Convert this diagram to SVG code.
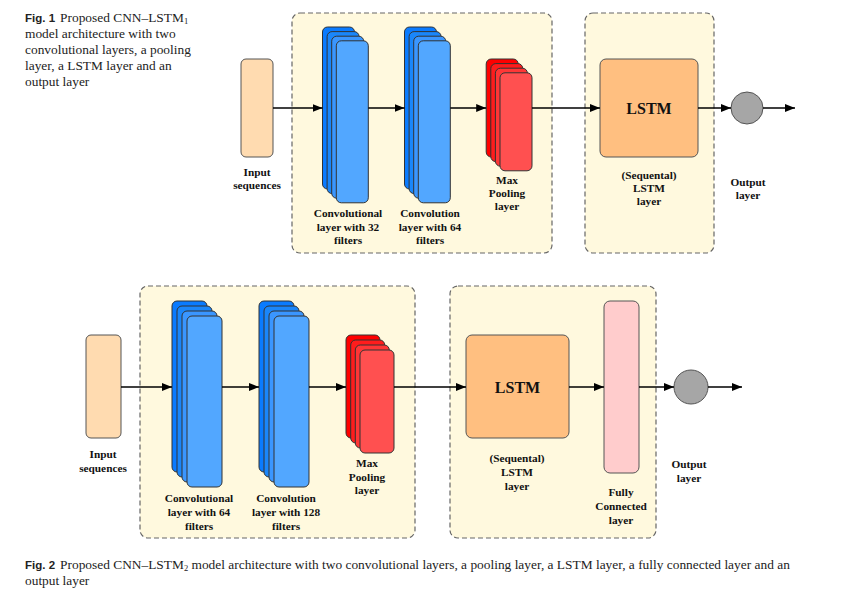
<svg xmlns="http://www.w3.org/2000/svg" width="865" height="602" viewBox="0 0 865 602">
<defs>
<marker id="ah" viewBox="0 0 10 8" refX="10" refY="4" markerWidth="10" markerHeight="8" markerUnits="userSpaceOnUse" orient="auto">
<path d="M0,0 L10,4 L0,8 Z" fill="#000"/>
</marker>
</defs>
<style>
.grp{fill:#FFF9DE;stroke:#666;stroke-width:1.2;stroke-dasharray:5,3}
.inp{fill:#FFDBB0;stroke:#555;stroke-width:1}
.b1{fill:#0A7BFF;stroke:#333;stroke-width:1}
.b2{fill:#1A86FA;stroke:#333;stroke-width:1}
.b3{fill:#3A96FF;stroke:#333;stroke-width:1}
.b4{fill:#52A7FF;stroke:#333;stroke-width:1}
.r1{fill:#FF0000;stroke:#333;stroke-width:1}
.r2{fill:#FF1C1C;stroke:#333;stroke-width:1}
.r3{fill:#FF3636;stroke:#333;stroke-width:1}
.r4{fill:#FF5050;stroke:#333;stroke-width:1}
.lstm{fill:#FFBF80;stroke:#555;stroke-width:1}
.fc{fill:#FFCCCC;stroke:#555;stroke-width:1}
.out{fill:#A6A6A6;stroke:#555;stroke-width:1}
.lbl{font-family:"Liberation Serif","Times New Roman",serif;font-weight:bold;font-size:11.3px;fill:#111;text-anchor:middle}
.big{font-family:"Liberation Serif","Times New Roman",serif;font-weight:bold;font-size:16px;fill:#111;text-anchor:middle}
.cap{font-family:"Liberation Serif","Times New Roman",serif;font-size:13.4px;fill:#222}
.capb{font-family:"Liberation Sans",Arial,sans-serif;font-weight:bold;font-size:11.5px}
.conn{stroke:#000;stroke-width:1.5;fill:none;marker-end:url(#ah)}
</style>

<!-- Figure 1 caption -->
<g id="caption1">
<text class="cap" x="25" y="22"><tspan class="capb">Fig. 1</tspan><tspan dx="5">Proposed CNN–LSTM</tspan><tspan font-size="8.5" dy="2">1</tspan></text>
<text class="cap" x="25" y="38">model architecture with two</text>
<text class="cap" x="25" y="54">convolutional layers, a pooling</text>
<text class="cap" x="25" y="70">layer, a LSTM layer and an</text>
<text class="cap" x="25" y="86">output layer</text>
</g>

<!-- Figure 1 groups -->
<g id="f1-group1"><rect class="grp" x="292" y="13" width="260" height="240" rx="8"/></g>
<g id="f1-group2"><rect class="grp" x="585" y="13" width="129" height="240" rx="8"/></g>

<g id="f1-input">
<rect class="inp" x="241" y="59" width="32" height="98" rx="5"/>
<text class="lbl" x="257" y="176">Input</text>
<text class="lbl" x="257" y="189">sequences</text>
</g>

<g id="f1-conv1">
<rect class="b1" x="322.5" y="27" width="32" height="162" rx="5"/>
<rect class="b2" x="327.1" y="31.6" width="32" height="162" rx="5"/>
<rect class="b3" x="331.7" y="36.2" width="32" height="162" rx="5"/>
<rect class="b4" x="336.3" y="40.8" width="32" height="162" rx="5"/>
<text class="lbl" x="348" y="217">Convolutional</text>
<text class="lbl" x="348" y="230.5">layer with 32</text>
<text class="lbl" x="348" y="244">filters</text>
</g>

<g id="f1-conv2">
<rect class="b1" x="404.5" y="27" width="32" height="162" rx="5"/>
<rect class="b2" x="409.1" y="31.6" width="32" height="162" rx="5"/>
<rect class="b3" x="413.7" y="36.2" width="32" height="162" rx="5"/>
<rect class="b4" x="418.3" y="40.8" width="32" height="162" rx="5"/>
<text class="lbl" x="430" y="217">Convolution</text>
<text class="lbl" x="430" y="230.5">layer with 64</text>
<text class="lbl" x="430" y="244">filters</text>
</g>

<g id="f1-pool">
<rect class="r1" x="486.2" y="59" width="32" height="98" rx="5"/>
<rect class="r2" x="490.8" y="63.6" width="32" height="98" rx="5"/>
<rect class="r3" x="495.4" y="68.2" width="32" height="98" rx="5"/>
<rect class="r4" x="500" y="72.8" width="32" height="98" rx="5"/>
<text class="lbl" x="507" y="184">Max</text>
<text class="lbl" x="507" y="197">Pooling</text>
<text class="lbl" x="507" y="210">layer</text>
</g>

<g id="f1-lstm">
<rect class="lstm" x="600" y="59" width="98" height="98" rx="6"/>
<text class="big" x="649" y="114">LSTM</text>
<text class="lbl" x="649" y="179">(Sequental)</text>
<text class="lbl" x="649" y="192">LSTM</text>
<text class="lbl" x="649" y="205">layer</text>
</g>

<g id="f1-output">
<circle class="out" cx="747" cy="108" r="16"/>
<text class="lbl" x="748" y="186">Output</text>
<text class="lbl" x="748" y="199">layer</text>
</g>

<!-- Figure 2 groups -->
<g id="f2-group1"><rect class="grp" x="140" y="286" width="275" height="252" rx="8"/></g>
<g id="f2-group2"><rect class="grp" x="450" y="286" width="206" height="252" rx="8"/></g>

<g id="f2-input">
<rect class="inp" x="86" y="335" width="35" height="103" rx="5"/>
<text class="lbl" x="103" y="458">Input</text>
<text class="lbl" x="103" y="472">sequences</text>
</g>

<g id="f2-conv1">
<rect class="b1" x="172" y="301" width="35" height="171" rx="5"/>
<rect class="b2" x="177" y="306" width="35" height="171" rx="5"/>
<rect class="b3" x="182" y="311" width="35" height="171" rx="5"/>
<rect class="b4" x="187" y="316" width="35" height="171" rx="5"/>
<text class="lbl" x="199" y="502">Convolutional</text>
<text class="lbl" x="199" y="516">layer with 64</text>
<text class="lbl" x="199" y="530">filters</text>
</g>

<g id="f2-conv2">
<rect class="b1" x="259" y="301" width="35" height="171" rx="5"/>
<rect class="b2" x="264" y="306" width="35" height="171" rx="5"/>
<rect class="b3" x="269" y="311" width="35" height="171" rx="5"/>
<rect class="b4" x="274" y="316" width="35" height="171" rx="5"/>
<text class="lbl" x="286" y="502">Convolution</text>
<text class="lbl" x="286" y="516">layer with 128</text>
<text class="lbl" x="286" y="530">filters</text>
</g>

<g id="f2-pool">
<rect class="r1" x="346" y="335" width="34" height="103" rx="5"/>
<rect class="r2" x="350.7" y="340" width="34" height="103" rx="5"/>
<rect class="r3" x="355.3" y="345" width="34" height="103" rx="5"/>
<rect class="r4" x="360" y="350" width="34" height="103" rx="5"/>
<text class="lbl" x="367" y="467">Max</text>
<text class="lbl" x="367" y="481">Pooling</text>
<text class="lbl" x="367" y="494">layer</text>
</g>

<g id="f2-lstm">
<rect class="lstm" x="466" y="335" width="103" height="103" rx="6"/>
<text class="big" x="517.5" y="393">LSTM</text>
<text class="lbl" x="517" y="462">(Sequental)</text>
<text class="lbl" x="517" y="476">LSTM</text>
<text class="lbl" x="517" y="490">layer</text>
</g>

<g id="f2-fc">
<rect class="fc" x="604" y="301" width="35" height="172" rx="6"/>
<text class="lbl" x="621" y="496">Fully</text>
<text class="lbl" x="621" y="510">Connected</text>
<text class="lbl" x="621" y="524">layer</text>
</g>

<g id="f2-output">
<circle class="out" cx="691" cy="387" r="17"/>
<text class="lbl" x="689" y="468">Output</text>
<text class="lbl" x="689" y="482">layer</text>
</g>

<!-- Connectors -->
<g id="connectors">
<line class="conn" x1="273" y1="108" x2="322.5" y2="108"/>
<line class="conn" x1="368.3" y1="108" x2="404.5" y2="108"/>
<line class="conn" x1="450.3" y1="108" x2="486.2" y2="108"/>
<line class="conn" x1="532" y1="108" x2="600" y2="108"/>
<line class="conn" x1="698" y1="108" x2="731" y2="108"/>
<line class="conn" x1="763" y1="108" x2="795" y2="108"/>

<line class="conn" x1="121" y1="387" x2="172" y2="387"/>
<line class="conn" x1="222" y1="387" x2="259" y2="387"/>
<line class="conn" x1="309" y1="387" x2="346" y2="387"/>
<line class="conn" x1="394" y1="387" x2="466" y2="387"/>
<line class="conn" x1="569" y1="387" x2="604" y2="387"/>
<line class="conn" x1="639" y1="387" x2="674" y2="387"/>
<line class="conn" x1="708" y1="387" x2="742" y2="387"/>
</g>

<!-- Figure 2 caption -->
<g id="caption2">
<text class="cap" x="25" y="569"><tspan class="capb">Fig. 2</tspan><tspan dx="5">Proposed CNN–LSTM</tspan><tspan font-size="8.5" dy="2">2</tspan><tspan dy="-2"> model architecture with two convolutional layers, a pooling layer, a LSTM layer, a fully connected layer and an</tspan></text>
<text class="cap" x="25" y="585">output layer</text>
</g>
</svg>
